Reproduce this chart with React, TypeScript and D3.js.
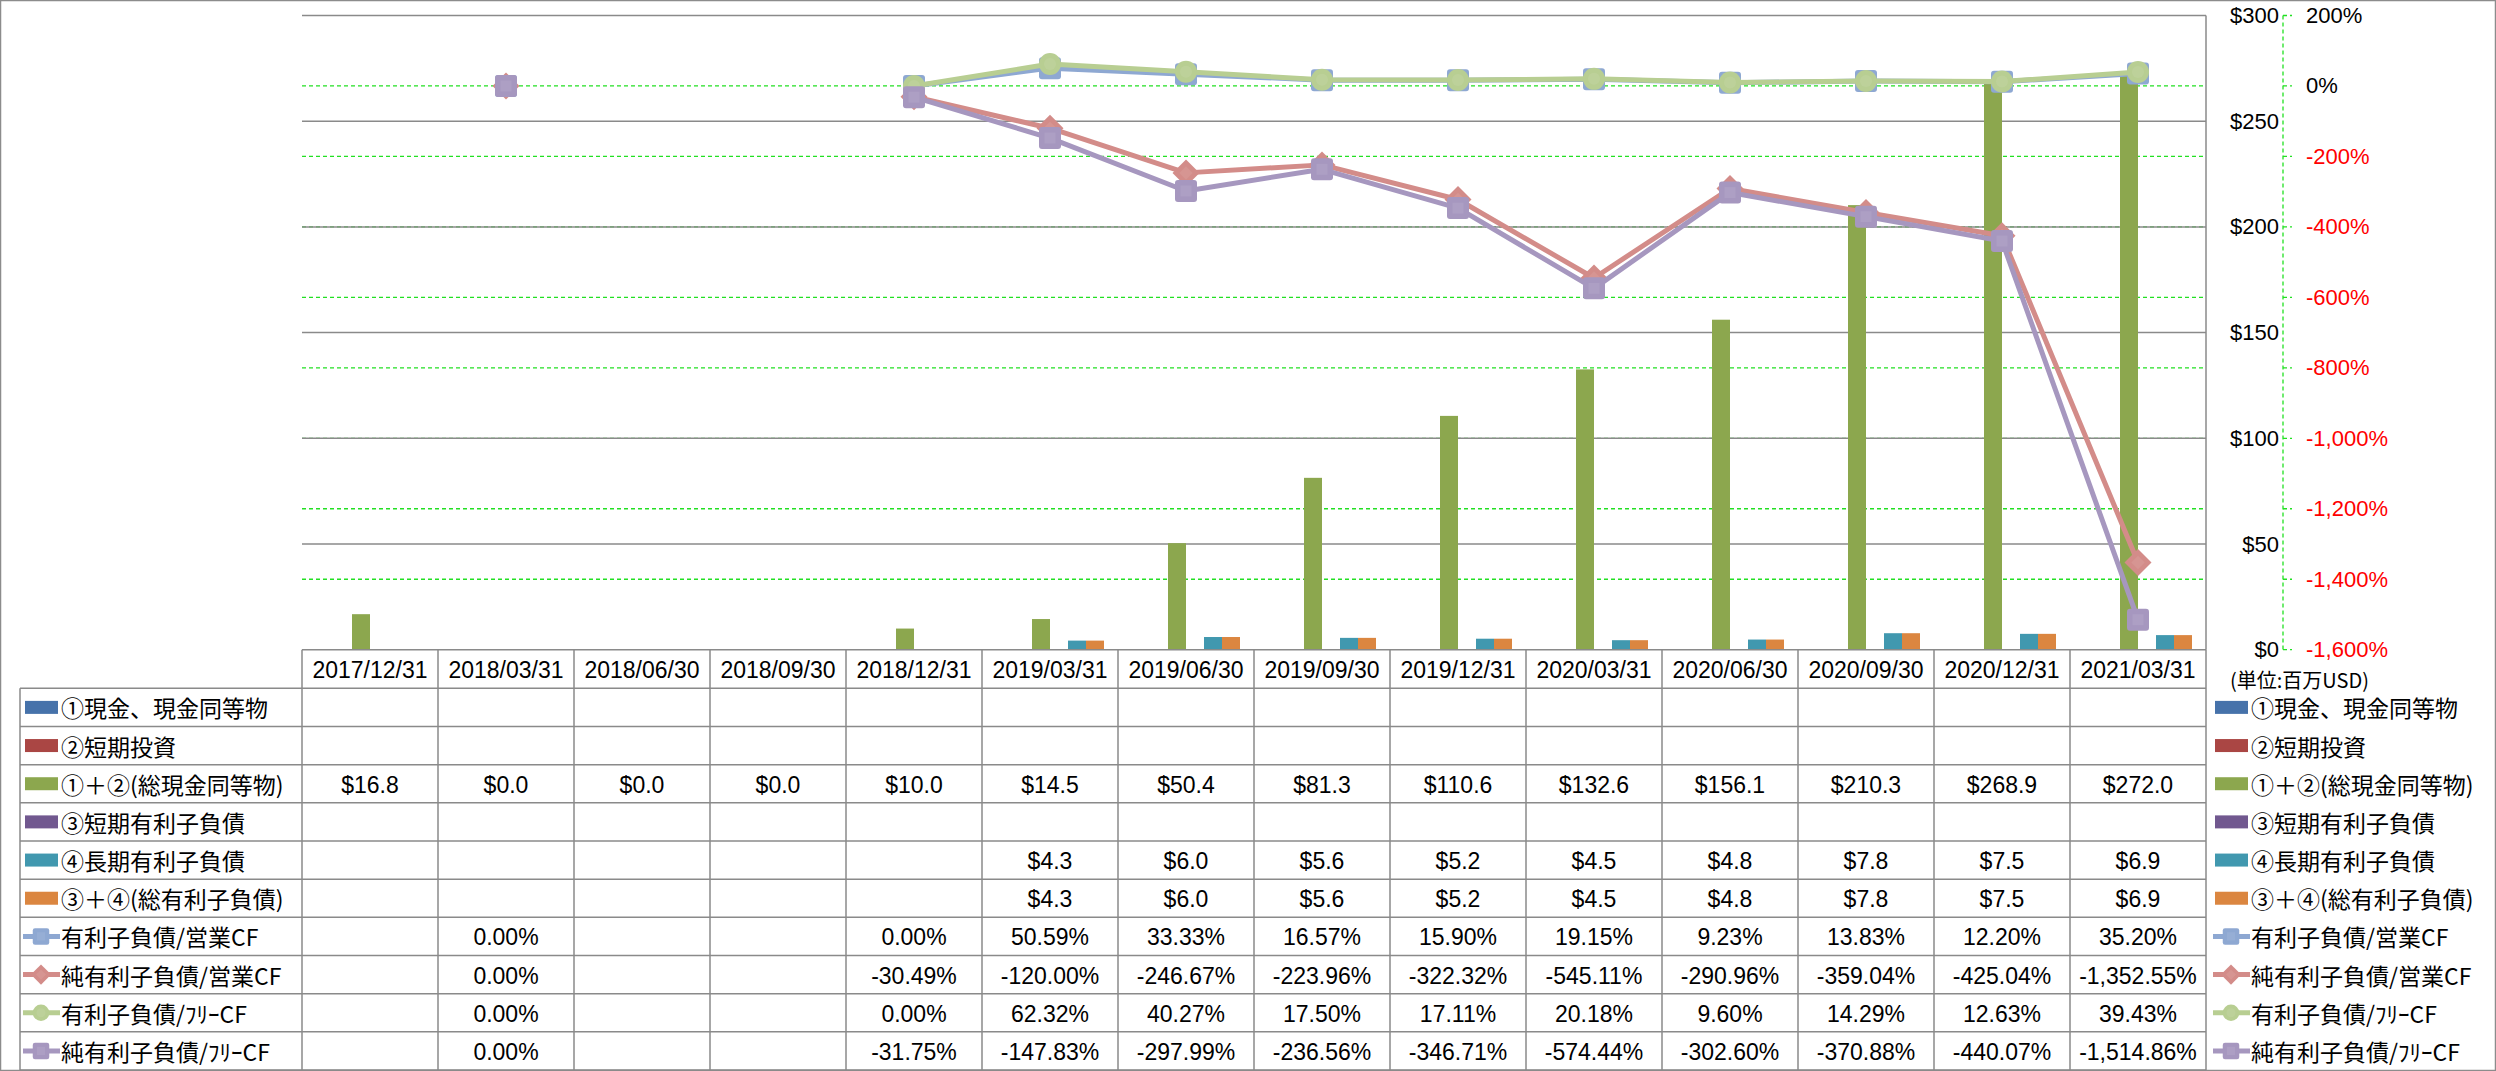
import React, { useEffect } from "react";
import * as d3 from "d3";

const categories = [
  "2017/12/31", "2018/03/31", "2018/06/30", "2018/09/30", "2018/12/31",
  "2019/03/31", "2019/06/30", "2019/09/30", "2019/12/31", "2020/03/31",
  "2020/06/30", "2020/09/30", "2020/12/31", "2021/03/31",
];

type V = number | null;
const cashEq: V[] = [null, null, null, null, null, null, null, null, null, null, null, null, null, null];
const shortInv: V[] = [null, null, null, null, null, null, null, null, null, null, null, null, null, null];
const totalCash: V[] = [16.8, 0, 0, 0, 10.0, 14.5, 50.4, 81.3, 110.6, 132.6, 156.1, 210.3, 268.9, 272.0];
const shortDebt: V[] = [null, null, null, null, null, null, null, null, null, null, null, null, null, null];
const longDebt: V[] = [null, null, null, null, null, 4.3, 6.0, 5.6, 5.2, 4.5, 4.8, 7.8, 7.5, 6.9];
const totalDebt: V[] = [null, null, null, null, null, 4.3, 6.0, 5.6, 5.2, 4.5, 4.8, 7.8, 7.5, 6.9];

const debtOpCF: V[] = [null, 0, null, null, 0, 50.59, 33.33, 16.57, 15.90, 19.15, 9.23, 13.83, 12.20, 35.20];
const netDebtOpCF: V[] = [null, 0, null, null, -30.49, -120.00, -246.67, -223.96, -322.32, -545.11, -290.96, -359.04, -425.04, -1352.55];
const debtFreeCF: V[] = [null, 0, null, null, 0, 62.32, 40.27, 17.50, 17.11, 20.18, 9.60, 14.29, 12.63, 39.43];
const netDebtFreeCF: V[] = [null, 0, null, null, -31.75, -147.83, -297.99, -236.56, -346.71, -574.44, -302.60, -370.88, -440.07, -1514.86];

const leftTicks = [0, 50, 100, 150, 200, 250, 300];
const rightTicks = [200, 0, -200, -400, -600, -800, -1000, -1200, -1400, -1600];

const barSeries = [
  { name: "①現金、現金同等物", color: "#4672AA", values: cashEq },
  { name: "②短期投資", color: "#AA4644", values: shortInv },
  { name: "①＋②(総現金同等物)", color: "#8CA74E", values: totalCash },
  { name: "③短期有利子負債", color: "#71588F", values: shortDebt },
  { name: "④長期有利子負債", color: "#4198AF", values: longDebt },
  { name: "③＋④(総有利子負債)", color: "#DB8640", values: totalDebt },
];

const lineSeries = [
  { name: "有利子負債/営業CF", color: "#8EA8D2", marker: "square", values: debtOpCF },
  { name: "純有利子負債/営業CF", color: "#D38C89", marker: "diamond", values: netDebtOpCF },
  { name: "有利子負債/ﾌﾘｰCF", color: "#B8CE92", marker: "circle", values: debtFreeCF },
  { name: "純有利子負債/ﾌﾘｰCF", color: "#A697BF", marker: "square", values: netDebtFreeCF },
];

const W = 2496;
const H = 1071;
const PL = 302;
const PR = 2206;
const PT = 15.5;
const PB = 649.7;
const HEADER_B = 688.3;
const ROW_H = 38.17;
const TABLE_L = 20;
const GRID = "#8A8A8A";
const LAT = "'Liberation Sans', Arial, sans-serif";
const JP = "'Noto Sans CJK JP', 'Noto Sans', sans-serif";

const hy = (s: string) => s.replace(/\u2212/g, "-");
function fmtMoney(v: V) {
  return v == null ? "" : "$" + d3.format(".1f")(v);
}
function fmtPct(v: V) {
  return v == null ? "" : hy(d3.format(",.2f")(v)) + "%";
}
function fmtAxisPct(v: number) {
  return hy(d3.format(",")(v)) + "%";
}

function Marker({ type, x, y, color, s = 1 }: { type: string; x: number; y: number; color: string; s?: number }) {
  if (type === "circle") {
    return (
      <g>
        <circle cx={x} cy={y} r={11 * s} fill={color} />
        <circle cx={x} cy={y} r={6 * s} fill="#ffffff" opacity={0.08} />
      </g>
    );
  }
  if (type === "diamond") {
    const r = 13.5 * s;
    return (
      <g>
        <path d={`M${x},${y - r}L${x + r},${y}L${x},${y + r}L${x - r},${y}Z`} fill={color} />
        <path d={`M${x},${y - r / 2}L${x + r / 2},${y}L${x},${y + r / 2}L${x - r / 2},${y}Z`} fill="#ffffff" opacity={0.08} />
      </g>
    );
  }
  const h = 11 * s;
  return (
    <g>
      <rect x={x - h} y={y - h} width={2 * h} height={2 * h} rx={3 * s} fill={color} />
      <rect x={x - h / 2} y={y - h / 2} width={h} height={h} fill="#ffffff" opacity={0.08} />
    </g>
  );
}

export default function App() {
  useEffect(() => {
    document.body.style.margin = "0";
  }, []);

  const x = d3.scaleBand<string>().domain(categories).range([PL, PR]).padding(0);
  const inner = d3
    .scaleBand<string>()
    .domain(barSeries.map((s) => s.name))
    .range([0, x.bandwidth()])
    .paddingInner(0)
    .paddingOuter(0.778);
  const yL = d3.scaleLinear().domain([0, 300]).range([PB, PT]);
  const yR = d3.scaleLinear().domain([-1600, 200]).range([PB, PT]);
  const cx = (c: string) => (x(c) as number) + x.bandwidth() / 2;

  const line = d3
    .line<V>()
    .defined((d) => d != null)
    .x((_, i) => cx(categories[i]))
    .y((d) => yR(d as number));

  const rowY = (k: number) => HEADER_B + ROW_H * (k + 0.5);
  const tableRows = [
    ...barSeries.map((s) => ({ name: s.name, color: s.color, kind: "bar", marker: "", cells: s.values.map(fmtMoney) })),
    ...lineSeries.map((s) => ({ name: s.name, color: s.color, kind: "line", marker: s.marker, cells: s.values.map(fmtPct) })),
  ];
  const nRows = tableRows.length;
  const tableBottom = HEADER_B + ROW_H * nRows;

  const legendIcon = (r: (typeof tableRows)[number], x0: number, y: number) =>
    r.kind === "bar" ? (
      <rect x={x0} y={y - 6.5} width={33} height={13} fill={r.color} />
    ) : (
      <g>
        <line x1={x0 - 2} x2={x0 + 35} y1={y} y2={y} stroke={r.color} strokeWidth={5} />
        <Marker type={r.marker} x={x0 + 16} y={y} color={r.color} s={0.75} />
      </g>
    );

  return (
    <svg width={W} height={H} style={{ display: "block", background: "#fff" }}>
      <rect x={0.5} y={0.5} width={W - 1} height={H - 1} fill="#fff" stroke="#8C8C8C" strokeWidth={1.5} />

      {/* green dashed gridlines (secondary axis) */}
      {rightTicks.filter((t) => t !== 200 && t !== -1600).map((t) => (
        <line key={"p" + t} x1={PL} x2={PR} y1={yR(t)} y2={yR(t)} stroke="#22E022" strokeWidth={1.3} strokeDasharray="4,3" />
      ))}
      {/* gray gridlines (primary axis) */}
      {leftTicks.filter((t) => t > 0).map((t) => (
        <line key={"g" + t} x1={PL} x2={PR} y1={yL(t)} y2={yL(t)} stroke={GRID} strokeWidth={1.5} />
      ))}
      <line x1={PR} x2={PR} y1={PT} y2={PB} stroke={GRID} strokeWidth={1.5} />

      {/* bars */}
      {barSeries.map((s) =>
        s.values.map((v, i) =>
          v == null || v <= 0 ? null : (
            <rect
              key={s.name + i}
              x={(x(categories[i]) as number) + (inner(s.name) as number)}
              y={yL(v)}
              width={inner.bandwidth()}
              height={PB - yL(v)}
              fill={s.color}
            />
          )
        )
      )}

      {/* lines */}
      {lineSeries.map((s) => (
        <g key={s.name}>
          <path d={line(s.values) || ""} fill="none" stroke={s.color} strokeWidth={5} strokeLinejoin="round" />
          {s.values.map((v, i) =>
            v == null ? null : <Marker key={i} type={s.marker} x={cx(categories[i])} y={yR(v)} color={s.color} />
          )}
        </g>
      ))}

      {/* primary $ axis labels (placed at right) */}
      {leftTicks.map((t) => (
        <text key={"lt" + t} x={2279} y={yL(t)} textAnchor="end" dominantBaseline="central" fontFamily={LAT} fontSize={22} fill="#000">
          {"$" + t}
        </text>
      ))}
      {/* secondary axis */}
      <line x1={2283} x2={2283} y1={PT} y2={PB} stroke="#22E022" strokeWidth={1.3} strokeDasharray="4,3" />
      {rightTicks.map((t) => (
        <g key={"rt" + t}>
          <line x1={2283} x2={2292} y1={yR(t)} y2={yR(t)} stroke="#22E022" strokeWidth={1.3} strokeDasharray="4,3" />
          <text x={2306} y={yR(t)} dominantBaseline="central" fontFamily={LAT} fontSize={22} fill={t < 0 ? "#FF0000" : "#000"}>
            {fmtAxisPct(t)}
          </text>
        </g>
      ))}
      <text x={2230} y={679} dominantBaseline="central" fontFamily={JP} fontSize={20} fill="#000">
        (単位:百万USD)
      </text>

      {/* data table */}
      <line x1={PL} x2={PR} y1={PB} y2={PB} stroke={GRID} strokeWidth={1.5} />
      {d3.range(nRows + 1).map((k) => (
        <line key={"h" + k} x1={TABLE_L} x2={PR} y1={HEADER_B + ROW_H * k} y2={HEADER_B + ROW_H * k} stroke={GRID} strokeWidth={1.5} />
      ))}
      <line x1={TABLE_L} x2={TABLE_L} y1={HEADER_B} y2={tableBottom} stroke={GRID} strokeWidth={1.5} />
      {categories.map((c) => (
        <line key={"v" + c} x1={x(c)} x2={x(c)} y1={PB} y2={tableBottom} stroke={GRID} strokeWidth={1.5} />
      ))}
      <line x1={PR} x2={PR} y1={PB} y2={tableBottom} stroke={GRID} strokeWidth={1.5} />
      {categories.map((c) => (
        <text key={"c" + c} x={cx(c)} y={(PB + HEADER_B) / 2 + 1} textAnchor="middle" dominantBaseline="central" fontFamily={LAT} fontSize={23} fill="#000">
          {c}
        </text>
      ))}
      {tableRows.map((r, k) => (
        <g key={"r" + k}>
          {legendIcon(r, 25, rowY(k))}
          <text x={61} y={rowY(k)} dominantBaseline="central" fontFamily={JP} fontSize={23} fill="#000">
            {r.name}
          </text>
          {r.cells.map((t, i) => (
            <text key={i} x={cx(categories[i])} y={rowY(k) + 1} textAnchor="middle" dominantBaseline="central" fontFamily={LAT} fontSize={23} fill="#000">
              {t}
            </text>
          ))}
          {legendIcon(r, 2215, rowY(k))}
          <text x={2251} y={rowY(k)} dominantBaseline="central" fontFamily={JP} fontSize={23} fill="#000">
            {r.name}
          </text>
        </g>
      ))}
    </svg>
  );
}
